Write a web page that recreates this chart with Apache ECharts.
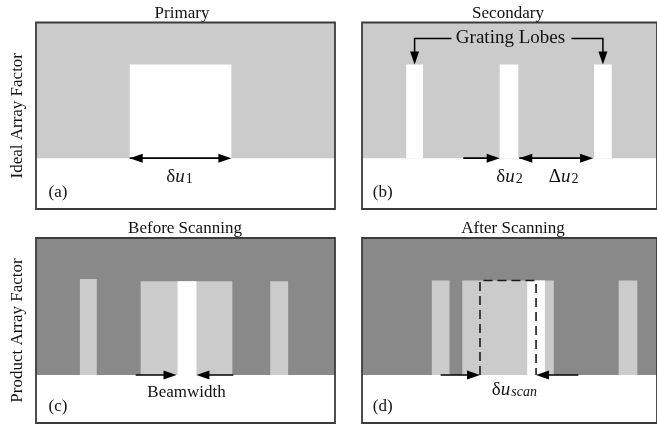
<!DOCTYPE html>
<html><head><meta charset="utf-8">
<script src="https://cdn.jsdelivr.net/npm/echarts@6/dist/echarts.min.js"></script>
<style>html,body{margin:0;padding:0;background:#fff}#c{width:657px;height:430px}</style>
</head><body><div id="c"></div>
<script>
// ---- data (u positions on a 0..300 axis, levels on a vertical axis where 0 = baseline, 1 = top) ----
const panelTitles = ['Primary', 'Secondary', 'Before Scanning', 'After Scanning'];
const rowLabels = ['Ideal Array Factor', 'Product Array Factor'];
const panelTags = ['(a)', '(b)', '(c)', '(d)'];
const uRange = [0, 300];
const topRowLevels = [-0.375, 1];
const bottomRowLevels = [-0.35, 1];

// lobes: [uStart, uEnd, height]
const lobesA = [[94, 196, 0.69]];
const lobesB = [[45, 62, 0.69], [140, 159, 0.69], [236, 254, 0.69]];
const lightLobesC = [[44, 61, 0.70], [105, 197, 0.685], [235, 253, 0.685]];
const whiteLobesC = [[142, 161, 0.685]];
const lightLobesD = [[71, 89, 0.69], [102, 195, 0.69], [261, 280, 0.69]];
const whiteLobesD = [[168, 186, 0.69]];
const scanBoxD = [120, 177, 0.69];

// arrows at baseline: [from, to, heads(1 = at 'to', 2 = both)]
const arrowsA = [[94, 196, 2]];
const arrowsB = [[103, 140, 1], [160, 235, 2]];
const arrowsC = [[100, 141, 1], [198, 161, 1]];
const arrowsD = [[80, 120, 1], [220, 177, 1]];

// grating lobe label: [uCenter, level, leftEdge, rightEdge]
const gratingLabel = [151, 0.882, 91, 213];

// text labels: [u, level, text]
const labelsA = [[144, -0.14, '{g|δ}{i|u}{n|1}'], [22, -0.25, '(a)']];
const labelsB = [[150, -0.14, '{g|δ}{i|u}{n|2}'], [205, -0.14, '{g|Δ}{i|u}{n|2}'], [21, -0.25, '(b)']];
const labelsC = [[151, -0.13, 'Beamwidth'], [22, -0.23, '(c)']];
const labelsD = [[155, -0.11, '{g|δ}{i|u}{s|scan}'], [21, -0.23, '(d)']];

// ---- styles ----
const LIGHT = '#cbcbcb', DARK = '#898989', WHITE = '#ffffff', FONT = 'Liberation Serif';
const rich = {
  g: {fontFamily: FONT, fontSize: 19, color: '#111'},
  i: {fontFamily: FONT, fontSize: 19, fontStyle: 'italic', color: '#111'},
  s: {fontFamily: FONT, fontSize: 14, fontStyle: 'italic', color: '#111', verticalAlign: 'bottom', lineHeight: 14, padding: [9, 0, 0, 1]},
  n: {fontFamily: FONT, fontSize: 14, color: '#111', verticalAlign: 'bottom', lineHeight: 14, padding: [9, 0, 0, 1]}
};

function buildShapes(bg, levels, lobeSets, arrows, labels, extra) {
  const s = [];
  s.push({t: 'rect', x0: uRange[0], x1: uRange[1], y0: 0, y1: 1, fill: bg});
  lobeSets.forEach(([list, fill]) => list.forEach(l => s.push({t: 'rect', x0: l[0], x1: l[1], y0: 0, y1: l[2], fill})));
  (extra || []).forEach(e => s.push(e));
  arrows.forEach(a => s.push({t: 'arrow', a: a[0], b: a[1], heads: a[2]}));
  labels.forEach(l => s.push({t: 'text', x: l[0], y: l[1], text: l[2]}));
  s.push({t: 'frame', x0: uRange[0], x1: uRange[1], y0: levels[0], y1: levels[1]});
  return s;
}

const panels = [
  buildShapes(LIGHT, topRowLevels, [[lobesA, WHITE]], arrowsA, labelsA),
  buildShapes(LIGHT, topRowLevels, [[lobesB, WHITE]], arrowsB, labelsB, [
    {t: 'text', x: gratingLabel[0], y: gratingLabel[1], text: 'Grating Lobes', big: true},
    {t: 'conn', pts: [[gratingLabel[2], gratingLabel[1]], [(lobesB[0][0] + lobesB[0][1]) / 2, gratingLabel[1]], [(lobesB[0][0] + lobesB[0][1]) / 2, lobesB[0][2]]]},
    {t: 'conn', pts: [[gratingLabel[3], gratingLabel[1]], [(lobesB[2][0] + lobesB[2][1]) / 2, gratingLabel[1]], [(lobesB[2][0] + lobesB[2][1]) / 2, lobesB[2][2]]]}
  ]),
  buildShapes(DARK, bottomRowLevels, [[lightLobesC, LIGHT], [whiteLobesC, WHITE]], arrowsC, labelsC),
  buildShapes(DARK, bottomRowLevels, [[lightLobesD, LIGHT], [whiteLobesD, WHITE]], arrowsD, labelsD, [
    {t: 'dash', x0: scanBoxD[0], x1: scanBoxD[1], h: scanBoxD[2]}
  ])
];

function head(tx, ty, dx, dy) {
  const L = 13, W = 4.5;
  const bx = tx - dx * L, by = ty - dy * L;
  return {type: 'polygon', shape: {points: [[tx, ty], [bx - dy * W, by + dx * W], [bx + dy * W, by - dx * W]]}, style: {fill: '#000'}};
}

function makeRender(shapes) {
  return function (params, api) {
    const s = shapes[params.dataIndex];
    const c = p => api.coord(p);
    if (s.t === 'rect') {
      const p0 = c([s.x0, s.y1]), p1 = c([s.x1, s.y0]);
      return {type: 'rect', shape: {x: p0[0], y: p0[1], width: p1[0] - p0[0], height: p1[1] - p0[1]}, style: {fill: s.fill}};
    }
    if (s.t === 'frame') {
      const p0 = c([s.x0, s.y1]), p1 = c([s.x1, s.y0]);
      return {type: 'rect', shape: {x: p0[0], y: p0[1], width: p1[0] - p0[0], height: p1[1] - p0[1]}, style: {fill: 'none', stroke: '#3c3c3c', lineWidth: 1.8}};
    }
    if (s.t === 'arrow') {
      const a = c([s.a, 0]), b = c([s.b, 0]);
      const dir = Math.sign(b[0] - a[0]);
      const ch = [{type: 'line', shape: {x1: a[0], y1: a[1], x2: b[0] - dir * 4, y2: b[1]}, style: {stroke: '#000', lineWidth: 1.6}}];
      ch.push(head(b[0], b[1], dir, 0));
      if (s.heads === 2) ch.push(head(a[0], a[1], -dir, 0));
      return {type: 'group', children: ch};
    }
    if (s.t === 'conn') {
      const pts = s.pts.map(c);
      const last = pts[pts.length - 1];
      return {type: 'group', children: [
        {type: 'polyline', shape: {points: pts.slice(0, -1).concat([[last[0], last[1] - 5]])}, style: {stroke: '#000', lineWidth: 1.5, fill: 'none'}},
        head(last[0], last[1], 0, 1)
      ]};
    }
    if (s.t === 'dash') {
      const bl = c([s.x0, 0]), tl = c([s.x0, s.h]), tr = c([s.x1, s.h]), br = c([s.x1, 0]);
      return {type: 'polyline', shape: {points: [bl, tl, tr, br]}, style: {stroke: '#1a1a1a', lineWidth: 1.6, lineDash: [9, 5], fill: 'none'}};
    }
    if (s.t === 'text') {
      const p = c([s.x, s.y]);
      return {type: 'text', x: p[0], y: p[1], style: {text: s.text, rich, fontFamily: FONT, fontSize: s.big ? 19 : 17, fill: '#111', align: 'center', verticalAlign: 'middle'}};
    }
    return null;
  };
}

const grids = [
  {left: 36, top: 22.5, width: 299, height: 186.5},
  {left: 362, top: 22.5, width: 299, height: 186.5},
  {left: 36, top: 238, width: 299, height: 185},
  {left: 362, top: 238, width: 299, height: 185}
];

const option = {
  animation: false,
  backgroundColor: '#fff',
  title: panelTitles.map((t, i) => ({
    text: t, textAlign: 'center', padding: 0,
    left: [182, 508, 185, 513][i], top: [5, 5, 220, 220][i],
    textStyle: {fontFamily: FONT, fontSize: 17, fontWeight: 'normal', color: '#111'}
  })),
  grid: grids,
  xAxis: grids.map((g, i) => ({type: 'value', gridIndex: i, min: uRange[0], max: uRange[1], show: false})),
  yAxis: grids.map((g, i) => ({
    type: 'value', gridIndex: i,
    min: (i < 2 ? topRowLevels : bottomRowLevels)[0], max: (i < 2 ? topRowLevels : bottomRowLevels)[1],
    axisLine: {show: false}, axisTick: {show: false}, axisLabel: {show: false}, splitLine: {show: false},
    name: i % 2 === 0 ? rowLabels[i / 2] : '', nameLocation: 'middle', nameGap: 10, nameRotate: 90,
    nameTextStyle: {fontFamily: FONT, fontSize: 17, color: '#111'}
  })),
  series: panels.map((shapes, i) => ({
    type: 'custom', xAxisIndex: i, yAxisIndex: i, silent: true,
    renderItem: makeRender(shapes),
    data: shapes.map(s => [s.x0 !== undefined ? s.x0 : (s.x || 0), s.y0 !== undefined ? s.y0 : (s.y || 0)])
  }))
};

const chart = echarts.init(document.getElementById('c'), null, {renderer: 'canvas'});
chart.setOption(option);
</script>
</body></html>
